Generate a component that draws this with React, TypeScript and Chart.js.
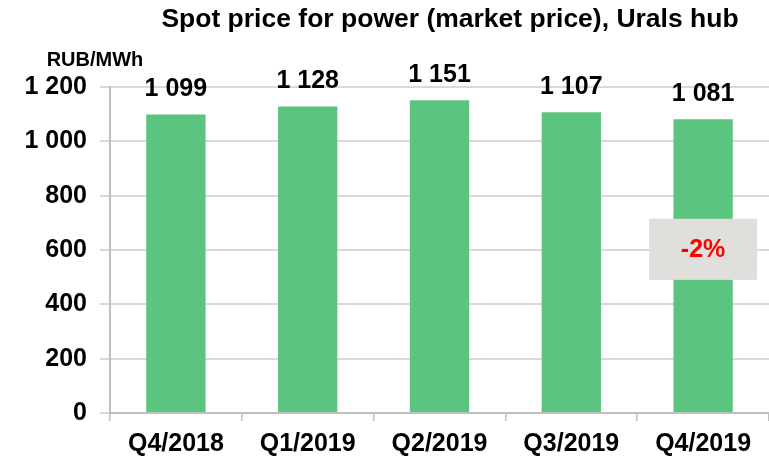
import React, { useEffect, useRef } from "react";
import { Chart, registerables } from "chart.js";

Chart.register(...registerables);

const categories = ["Q4/2018", "Q1/2019", "Q2/2019", "Q3/2019", "Q4/2019"];
const prices = [1099, 1128, 1151, 1107, 1081];
const yMin = 0;
const yMax = 1200;
const yStep = 200;
const chartTitle = "Spot price for power (market price), Urals hub";
const unitLabel = "RUB/MWh";
const changeLabel = "-2%";
const changeBoxValues = [490, 715];

const FONT = "'Liberation Sans', Arial, sans-serif";

const fmt = (n: number) => String(n).replace(/\B(?=(\d{3})+(?!\d))/g, " ");

const textPlugin = {
  id: "customText",
  afterDatasetsDraw(chart: any) {
    const ctx = chart.ctx;
    const meta = chart.getDatasetMeta(0);
    ctx.save();
    ctx.fillStyle = "#000";
    ctx.font = `bold 25px ${FONT}`;
    ctx.textAlign = "center";
    ctx.textBaseline = "middle";
    meta.data.forEach((bar: any, i: number) => {
      ctx.fillText(fmt(prices[i]), bar.x, bar.y - 25);
    });

    const xs = chart.scales.x;
    const ys = chart.scales.y;
    const last = categories.length - 1;
    const cx = xs.getPixelForValue(last);
    const catW = (xs.right - xs.left) / categories.length;
    const w = catW * 0.82;
    const top = ys.getPixelForValue(changeBoxValues[1]);
    const bot = ys.getPixelForValue(changeBoxValues[0]);
    ctx.fillStyle = "#e0dfdb";
    ctx.fillRect(cx - w / 2, top, w, bot - top);
    ctx.fillStyle = "#ff0000";
    ctx.font = `bold 25px ${FONT}`;
    ctx.fillText(changeLabel, cx, (top + bot) / 2 + 1);

    ctx.fillStyle = "#000";
    ctx.font = `bold 26.5px ${FONT}`;
    ctx.fillText(chartTitle, 450, 20);
    ctx.font = `bold 20px ${FONT}`;
    ctx.fillText(unitLabel, 95, 60);
    ctx.restore();
  },
};

export default function App() {
  const ref = useRef<HTMLCanvasElement | null>(null);
  useEffect(() => {
    document.body.style.margin = "0";
    if (!ref.current) return;
    const chart = new Chart(ref.current, {
      type: "bar",
      data: {
        labels: categories,
        datasets: [
          {
            data: prices,
            backgroundColor: "#5bc47f",
            borderWidth: 0,
            barPercentage: 0.45,
            categoryPercentage: 1,
          },
        ],
      },
      options: {
        animation: false,
        responsive: true,
        maintainAspectRatio: false,
        layout: { padding: { top: 87, bottom: 0, left: 0, right: 0 } },
        plugins: {
          legend: { display: false },
          title: { display: false },
          tooltip: { enabled: false },
        },
        scales: {
          x: {
            offset: true,
            afterFit: (s: any) => {
              s.height = 46;
            },
            grid: {
              offset: true,
              drawOnChartArea: false,
              tickLength: 8,
              color: "#bfbfbf",
              lineWidth: 1.5,
            },
            border: { color: "#bfbfbf", width: 2 },
            ticks: {
              color: "#000",
              font: { family: FONT, size: 25, weight: "bold" },
              padding: 8,
              maxRotation: 0,
            },
          },
          y: {
            min: yMin,
            max: yMax,
            afterFit: (s: any) => {
              s.width = 110;
            },
            grid: { color: "#d9d9d9", lineWidth: 2, tickLength: 10 },
            border: { color: "#bfbfbf", width: 2 },
            ticks: {
              stepSize: yStep,
              color: "#000",
              padding: 13,
              font: { family: FONT, size: 25, weight: "bold" },
              callback: (v: any) => fmt(Number(v)),
            },
          },
        },
      },
      plugins: [textPlugin],
    });
    return () => chart.destroy();
  }, []);
  return (
    <div style={{ position: "relative", width: 769, height: 459 }}>
      <canvas ref={ref} />
    </div>
  );
}
